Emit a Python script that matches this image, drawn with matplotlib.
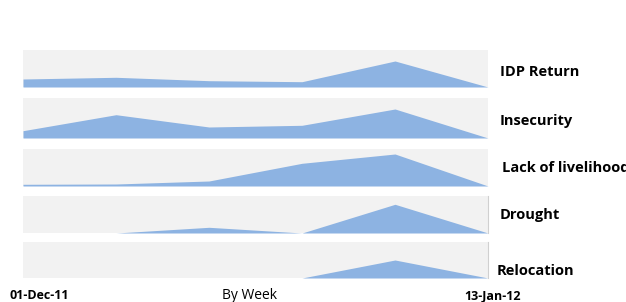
import matplotlib.pyplot as plt

# weekly points, 01-Dec-11 .. 13-Jan-12
weeks = [0, 1, 2, 3, 4, 5]

categories = ["IDP Return", "Insecurity", "Lack of livelihood", "Drought", "Relocation"]
idp_return = [8, 9.7, 6.3, 5.3, 26, 0]
insecurity = [7.3, 23.3, 11, 12.7, 29, 0]
livelihood = [1.7, 2, 5, 22.7, 32, 0]
drought = [0, 0, 5.7, 0, 28.7, 0]
relocation = [0, 0, 0, 0, 18, 0]
series = [idp_return, insecurity, livelihood, drought, relocation]

# panel top/bottom in pixels, label x and baseline in pixels
panels = [(50, 87, 500, 75.5), (98, 138, 500, 125), (149, 186, 502, 171.5),
          (196, 233, 500, 219.5), (242, 278, 497, 275)]

W, H = 626, 302
fig = plt.figure(figsize=(W / 100, H / 100), dpi=100)
font = "Open Sans"

for i, (top, bottom, lx, ly) in enumerate(panels):
    ax = fig.add_axes([23 / W, 1 - bottom / H, (488 - 23) / W, (bottom - top) / H])
    ax.set_facecolor("#f2f2f2")
    ax.fill_between(weeks, series[i], 0, color="#8db3e2", linewidth=0)
    ax.set_xlim(weeks[0], weeks[-1])
    ax.set_ylim(0, bottom - top)
    ax.set_xticks([])
    ax.set_yticks([])
    for side in ["top", "left", "bottom"]:
        ax.spines[side].set_visible(False)
    if i >= 3:
        ax.spines["right"].set_color("#d0d0d0")
        ax.spines["right"].set_linewidth(0.8)
    else:
        ax.spines["right"].set_visible(False)
    fig.text(lx / W, 1 - ly / H, categories[i], fontsize=10.5, fontweight="bold",
             family=font, va="baseline", ha="left")

fig.text(9 / W, 1 - 299 / H, "01-Dec-11", fontsize=9, fontweight="bold", family=font, va="baseline")
fig.text(249 / W, 1 - 299 / H, "By Week", fontsize=10, family=font, va="baseline", ha="center")
fig.text(464 / W, 1 - 299 / H, "13-Jan-12", fontsize=9, fontweight="bold", family=font, va="baseline")

plt.savefig("out.png", dpi=100)
